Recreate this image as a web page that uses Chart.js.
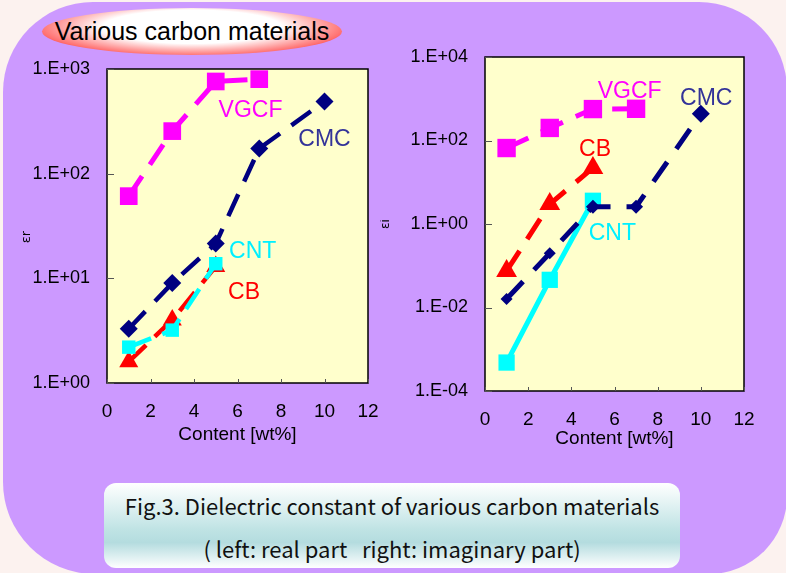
<!DOCTYPE html>
<html>
<head>
<meta charset="utf-8">
<script src="https://cdn.jsdelivr.net/npm/chart.js@4"></script>
<style>
body{margin:0;width:786px;height:573px;overflow:hidden;background:#fcf2ef;position:relative;font-family:"Liberation Sans",Arial,sans-serif;}
#panel{position:absolute;left:3px;top:2px;width:784px;height:572px;background:#cc99ff;border-radius:90px 88px 78px 92px;}
#title{position:absolute;left:42px;top:8px;width:300px;height:47px;border-radius:50%;
background:radial-gradient(ellipse at 50% 40%,#ffffff 0%,#ffffff 42%,#ff7070 72%,#ff0000 88%,#e80000 100%);
font-size:25px;line-height:47px;text-align:center;color:#000;}
#cap{position:absolute;left:104px;top:483px;width:576px;height:85px;border-radius:12px;
background:linear-gradient(#ffffff 0%,#bfe3e4 55%,#b4dcdf 70%,#ffffff 100%);
font-family:"Noto Sans CJK JP","Noto Sans",sans-serif;color:#111;text-align:center;}
#cap div{position:absolute;left:0;width:100%;font-size:22px;line-height:30px;}
.box{position:absolute;}
</style>
</head>
<body>
<div id="panel"></div>
<div id="title">Various carbon materials</div>
<div class="box" style="left:0;top:50px;width:385px;height:410px"><canvas id="realChart" width="385" height="410"></canvas></div>
<div class="box" style="left:380px;top:40px;width:406px;height:420px"><canvas id="imagChart" width="406" height="420"></canvas></div>
<div id="cap">
<div style="top:7px">Fig.3. Dielectric constant of various carbon materials</div>
<div style="top:50px">( left: real part&nbsp;&nbsp;&nbsp;right: imaginary part)</div>
</div>
<script>
// content [wt%]
const vgcfX=[1,3,5,7];
const cmcX=[1,3,5,7,10];
const cbX=[1,3,5];
const cntX=[1,3,5];

// real part (left)
const vgcfReal=[61,255,760,800];
const cmcReal=[3.3,9,21.5,174,490];
const cbReal=[1.6,4,13];
const cntReal=[2.2,3.2,13.8];

// imaginary part (right)
const vgcfImag=[66,200,566,575];
const cmcImag=[0.016,0.2,2.6,2.6,440];
const cbImag=[0.075,3,22];
const cntImag=[0.00048,0.046,3.6];

const xTicks=[0,2,4,6,8,10,12];
const realTicks=[1,10,100,1000];
const imagTicks=[1e-4,1e-2,1,1e2,1e4];

// series name labels, placed in data space [name, x, y]
const realNames=[["VGCF",6.6,400],["CMC",10.0,210],["CNT",6.7,18],["CB",6.3,7.3]];
const imagNames=[["VGCF",6.7,1500],["CMC",10.25,1000],["CB",5.1,60],["CNT",5.9,0.6]];

const nameColors={VGCF:"#ff00ff",CMC:"#333399",CB:"#ff0000",CNT:"#00f0ff"};

function pts(xs,ys){return xs.map((x,i)=>({x:x,y:ys[i]}));}

function expLabel(v){
const e=Math.round(Math.log10(v));
const s=Math.abs(e)<10?"0"+Math.abs(e):""+Math.abs(e);
return "1.E"+(e<0?"-":"+")+s;
}

const frame={
id:"frame",
beforeDraw(chart){
const a=chart.chartArea,c=chart.ctx;
c.save();
c.fillStyle="#ffffcc";
c.fillRect(a.left,a.top,a.right-a.left,a.bottom-a.top);
c.restore();
},
afterDraw(chart,args,opts){
const a=chart.chartArea,c=chart.ctx;
c.save();
c.strokeStyle="#000";
c.lineWidth=1.5;
c.strokeRect(a.left,a.top,a.right-a.left,a.bottom-a.top);
c.strokeStyle="#555";
c.lineWidth=1;
chart.scales.y.ticks.forEach(t=>{
const y=Math.round(chart.scales.y.getPixelForValue(t.value))+0.5;
c.beginPath();c.moveTo(a.left,y);c.lineTo(a.left+7,y);c.stroke();
});
chart.scales.x.ticks.forEach(t=>{
const x=Math.round(chart.scales.x.getPixelForValue(t.value))+0.5;
c.beginPath();c.moveTo(x,a.bottom);c.lineTo(x,a.bottom-4);c.stroke();
});
// y axis title
c.translate(opts.titleX,opts.titleY);
c.rotate(-Math.PI/2);
c.fillStyle="#000";
c.font=opts.titleSize+"px 'DejaVu Sans'";
c.textAlign="center";
c.textBaseline="middle";
c.fillText(opts.title,0,0);
c.restore();
}
};

const names={
id:"names",
afterDatasetsDraw(chart,args,opts){
const c=chart.ctx;
c.save();
c.font="23px 'Liberation Sans', Arial, sans-serif";
c.textAlign="center";
c.textBaseline="middle";
opts.list.forEach(n=>{
c.fillStyle=nameColors[n[0]];
c.fillText(n[0],chart.scales.x.getPixelForValue(n[1]),chart.scales.y.getPixelForValue(n[2]));
});
c.restore();
}
};

function makeChart(id,sets,yMin,yMax,yTicks,titleOpts,nameList,pad,yWidth,xHeight){
return new Chart(document.getElementById(id),{
type:"line",
data:{datasets:sets},
options:{
responsive:false,
animation:false,
layout:{padding:pad},
plugins:{legend:{display:false},tooltip:{enabled:false},names:{list:nameList},frame:titleOpts},
scales:{
x:{
type:"linear",min:0,max:12,
afterBuildTicks:s=>{s.ticks=xTicks.map(v=>({value:v}));},
afterFit:s=>{s.height=xHeight;s.paddingLeft=0;s.paddingRight=0;},
grid:{display:false,drawTicks:false},
border:{display:false},
ticks:{padding:17,color:"#000",font:{size:19,family:"'Liberation Sans', Arial"}},
title:{display:true,text:"Content [wt%]",color:"#000",padding:0,font:{size:19,family:"'Liberation Sans', Arial"}}
},
y:{
type:"logarithmic",min:yMin,max:yMax,
afterBuildTicks:s=>{s.ticks=yTicks.map(v=>({value:v}));},
afterFit:s=>{s.width=yWidth;s.paddingTop=0;s.paddingBottom=0;},
grid:{display:false,drawTicks:false},
border:{display:false},
ticks:{padding:17,color:"#000",callback:v=>expLabel(v),font:{size:18,family:"'Liberation Sans', Arial"}},
title:{display:false}
}
}
},
plugins:[frame,names]
});
}

function ds(data,color,style,radius,dash,width){
return {data:data,borderColor:color,backgroundColor:color,pointBackgroundColor:color,pointBorderColor:color,
pointStyle:style,pointRadius:radius,pointBorderWidth:0,borderWidth:width,borderDash:dash,tension:0,
borderCapStyle:"butt"};
}

makeChart("realChart",[
ds(pts(cmcX,cmcReal),"#000080","rectRot",9,[24,14],4.5),
ds(pts(cntX,cntReal),"#00ffff","rect",9.5,[24,12],4.5),
ds(pts(cbX,cbReal),"#ff0000","triangle",11,[24,12],4.5),
ds(pts(vgcfX,vgcfReal),"#ff00ff","rect",12.5,[24,14],5)
],1,1000,realTicks,{title:"εr",titleX:27,titleY:187,titleSize:13},realNames,{top:19,right:17,left:0,bottom:14},107,63);

makeChart("imagChart",[
ds(pts(cmcX,cmcImag),"#000080","rectRot",[6,6,7,7,9],[24,16],5),
ds(pts(cntX,cntImag),"#00ffff","rect",11.5,[],5),
ds(pts(cbX,cbImag),"#ff0000","triangle",12,[24,14],5),
ds(pts(vgcfX,vgcfImag),"#ff00ff","rect",13,[24,14],5)
],1e-4,1e4,imagTicks,{title:"εi",titleX:6,titleY:184,titleSize:12},imagNames,{top:17,right:42,left:0,bottom:10},105,59);
</script>
</body>
</html>
